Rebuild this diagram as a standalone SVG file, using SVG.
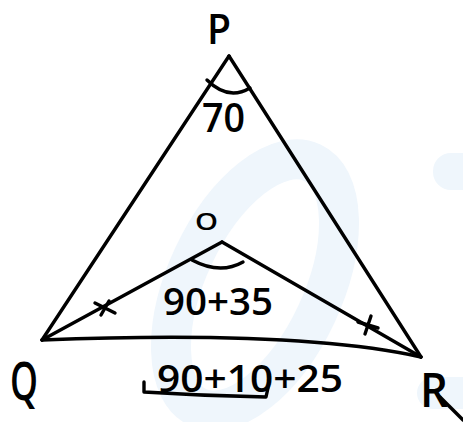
<svg xmlns="http://www.w3.org/2000/svg" width="463" height="422" viewBox="0 0 463 422">
<style>
.ln{fill:none;stroke:#000;stroke-width:3.4;stroke-linecap:round;stroke-linejoin:round}
.t{font-family:"Open Sans","DejaVu Sans",sans-serif;font-weight:600;fill:#000}
.wm{fill:none;stroke:#eff6fc;stroke-linecap:round}
</style>
<rect width="463" height="422" fill="#fff"/>
<g id="watermark">
<ellipse cx="255" cy="285" rx="68" ry="135" transform="rotate(25 255 285)" class="wm" stroke-width="40"/>
<rect x="433" y="153" width="60" height="37" rx="18" fill="#eff6fc"/>
<rect x="417" y="377" width="70" height="32" rx="16" fill="#eff6fc"/>
</g>
<g id="connectors">
<path class="ln" d="M229 56 L42 340"/>
<path class="ln" d="M229 56 L421 357"/>
<path class="ln" d="M42 340 Q 300 330 421 357"/>
<path class="ln" d="M42 340 L222 242"/>
<path class="ln" d="M222 242 L421 357"/>
</g>
<g id="angle-P">
<path class="ln" d="M207 80 Q 228 101 250 88"/>
<text class="t" x="202" y="132" font-size="40" textLength="43" lengthAdjust="spacingAndGlyphs">70</text>
</g>
<g id="angle-O">
<path class="ln" d="M192 260 Q 220 275 243 262"/>
<text class="t" x="163" y="315" font-size="37" textLength="110" lengthAdjust="spacingAndGlyphs">90+35</text>
</g>
<g id="ticks">
<path class="ln" d="M95 303 L115 313 M101 315 L109 301"/>
<path class="ln" d="M358 322 L378 328 M365 334 L371 316"/>
</g>
<g id="node-P"><text class="t" x="207" y="44" font-size="42" textLength="24" lengthAdjust="spacingAndGlyphs">P</text></g>
<g id="node-O"><text class="t" x="195" y="230" font-size="24" textLength="23" lengthAdjust="spacingAndGlyphs">O</text></g>
<g id="node-Q"><text class="t" x="10" y="400" font-size="52" textLength="28" lengthAdjust="spacingAndGlyphs">Q</text></g>
<g id="node-R"><text class="t" x="420" y="407" font-size="47" textLength="28" lengthAdjust="spacingAndGlyphs">R</text>
<path class="ln" d="M440 397 L463 420"/></g>
<g id="angle-sum">
<text class="t" x="157" y="392" font-size="37" textLength="186" lengthAdjust="spacingAndGlyphs">90+10+25</text>
<path class="ln" d="M144 382 L144 392 Q 205 396 266 397 L268 388"/>
</g>
</svg>
